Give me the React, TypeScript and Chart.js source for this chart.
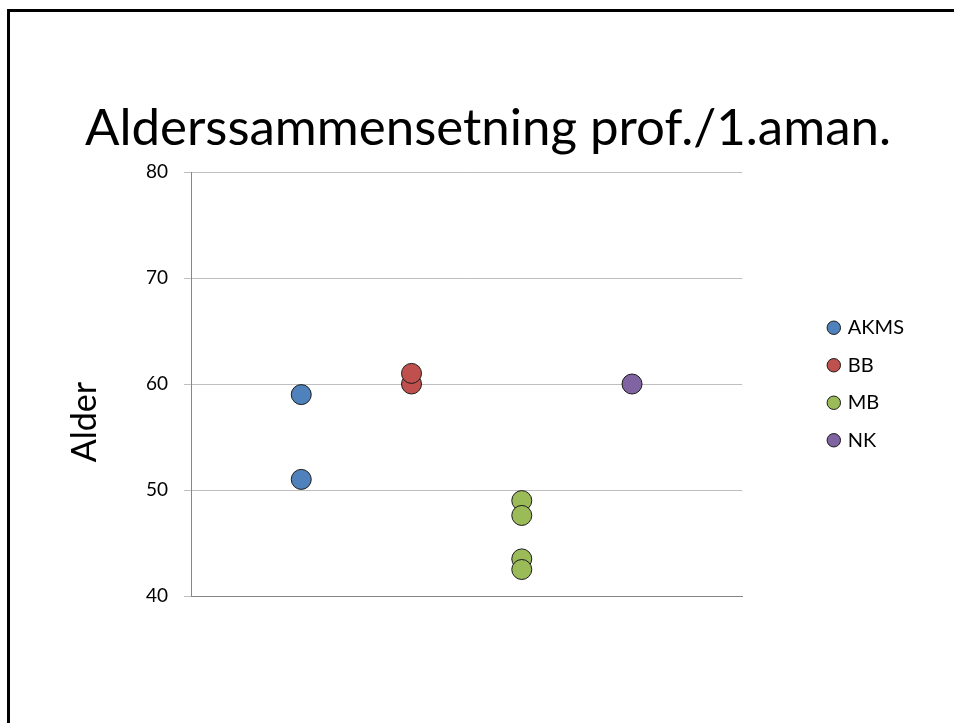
import React, { useEffect, useRef } from "react";
import { Chart, registerables } from "chart.js";

Chart.register(...registerables);

const TITLE = "Alderssammensetning prof./1.aman.";
const Y_TITLE = "Alder";
const SERIES_NAMES = ["AKMS", "BB", "MB", "NK"];
const SERIES_X = [1, 2, 3, 4];
const AKMS = [59, 51];
const BB = [60, 61];
const MB = [49, 47.6, 43.5, 42.5];
const NK = [60];
const SERIES_VALUES = [AKMS, BB, MB, NK];
const COLORS = ["#4F81BD", "#C0504D", "#9BBB59", "#8064A2"];
const Y_MIN = 40;
const Y_MAX = 80;
const Y_STEP = 10;
const X_MIN = 0;
const X_MAX = 5;

const FONT = "Lato, 'Open Sans', sans-serif";

const textPlugin = {
  id: "slideText",
  afterDraw(chart: any) {
    const { ctx, chartArea } = chart;
    ctx.save();
    // slide title
    ctx.font = `51px ${FONT}`;
    ctx.fillStyle = "#000";
    ctx.textAlign = "center";
    ctx.textBaseline = "alphabetic";
    ctx.fillText(TITLE, 488, 145);
    // y axis title
    ctx.translate(chartArea.left - 95, (chartArea.top + chartArea.bottom) / 2 + 38);
    ctx.rotate(-Math.PI / 2);
    ctx.font = `34px ${FONT}`;
    ctx.fillText(Y_TITLE, 0, 0);
    ctx.restore();
  },
};

export default function App() {
  const ref = useRef<HTMLCanvasElement | null>(null);
  useEffect(() => {
    if (!ref.current) return;
    const datasets = SERIES_NAMES.map((name, i) => ({
      label: name,
      data: SERIES_VALUES[i].map((v) => ({ x: SERIES_X[i], y: v })),
      backgroundColor: COLORS[i],
      borderColor: "#1a1a1a",
      borderWidth: 1,
      pointRadius: 10,
      pointHoverRadius: 10,
      pointStyle: "circle",
    }));
    const chart = new Chart(ref.current, {
      type: "scatter",
      data: { datasets },
      options: {
        animation: false,
        responsive: false,
        layout: { padding: { top: 172, left: 0, right: 40, bottom: 119 } },
        plugins: {
          title: { display: false },
          legend: {
            position: "right",
            fullSize: false,
            labels: {
              usePointStyle: true,
              pointStyle: "circle",
              boxWidth: 8,
              boxHeight: 9.5,
              padding: 17.5,
              color: "#000",
              font: { family: FONT, size: 20 },
            },
          },
          tooltip: { enabled: false },
        },
        scales: {
          x: {
            type: "linear",
            min: X_MIN,
            max: X_MAX,
            ticks: { display: false },
            grid: { display: false },
            border: { display: true, color: "#868686", width: 1 },
          },
          y: {
            type: "linear",
            min: Y_MIN,
            max: Y_MAX,
            afterFit: (s: any) => {
              s.width = 191;
            },
            ticks: {
              stepSize: Y_STEP,
              color: "#000",
              padding: 16,
              font: { family: FONT, size: 19 },
            },
            grid: { color: "#BFBFBF", tickLength: 7, tickColor: "#BFBFBF", lineWidth: 1 },
            border: { display: true, color: "#868686", width: 1 },
          },
          gap: {
            type: "linear",
            position: "right",
            display: true,
            ticks: { display: false },
            grid: { display: false, drawTicks: false },
            border: { display: false },
            afterFit: (s: any) => {
              s.width = 70;
            },
          },
        },
      },
      plugins: [textPlugin],
    });
    return () => chart.destroy();
  }, []);

  return (
    <div
      style={{
        position: "fixed",
        left: 0,
        top: 0,
        width: 954,
        height: 723,
        overflow: "hidden",
        background: "#fff",
      }}
    >
      <canvas ref={ref} width={954} height={723} style={{ width: 954, height: 723, display: "block" }} />
      <div
        style={{
          position: "absolute",
          left: 7,
          top: 9,
          width: 947,
          height: 3,
          background: "#000",
          pointerEvents: "none",
        }}
      />
      <div
        style={{
          position: "absolute",
          left: 7,
          top: 9,
          width: 3,
          height: 714,
          background: "#000",
          pointerEvents: "none",
        }}
      />
    </div>
  );
}
